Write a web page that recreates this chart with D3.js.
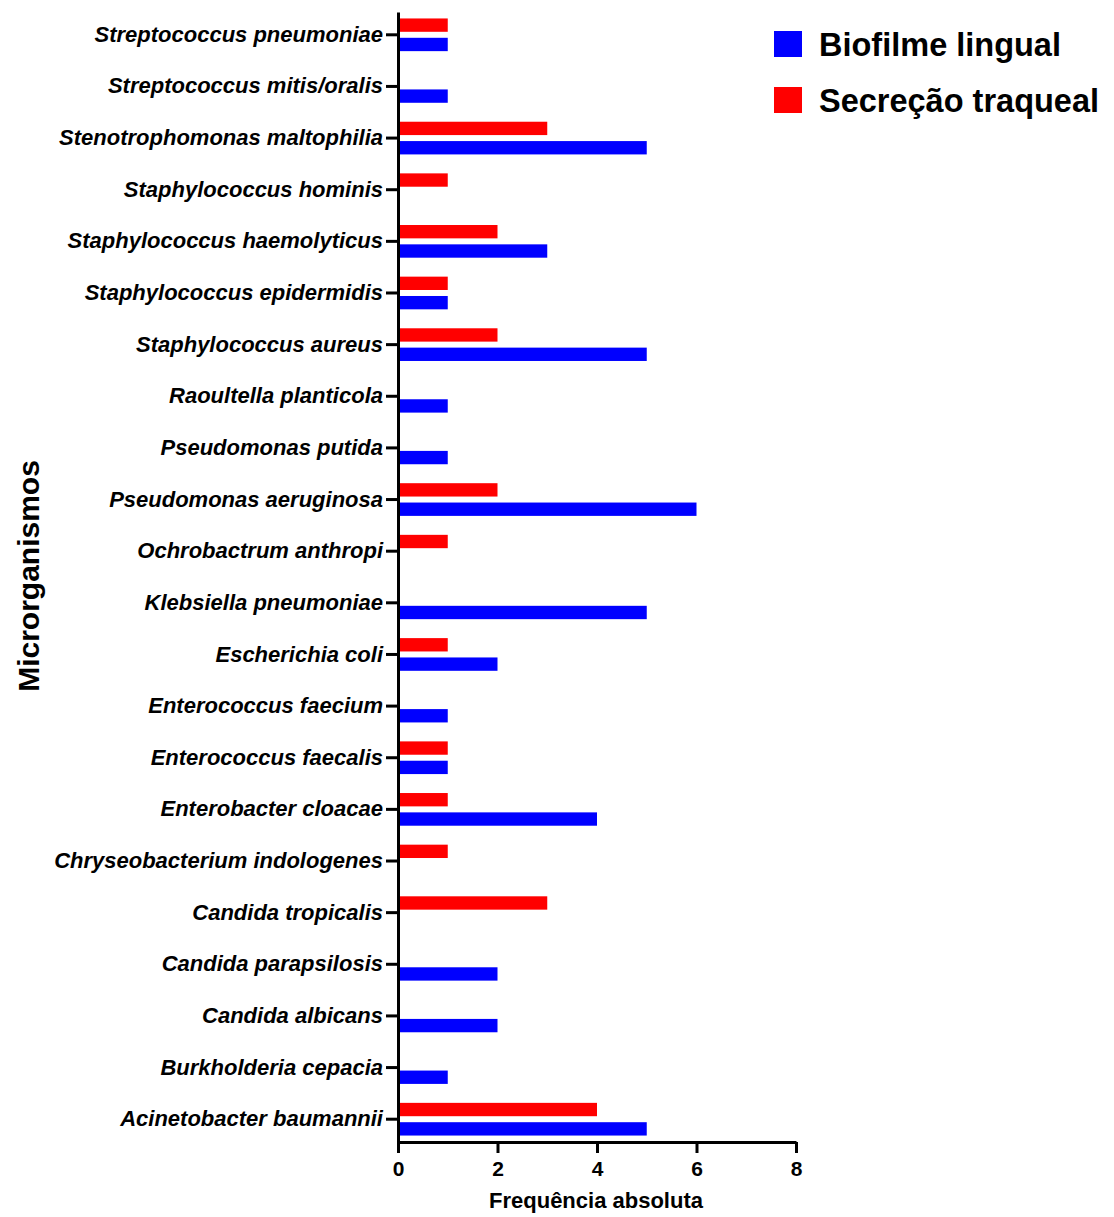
<!DOCTYPE html>
<html>
<head>
<meta charset="utf-8">
<script src="https://cdn.jsdelivr.net/npm/d3@7"></script>
<style>
  body { margin: 0; background: #fff; }
  svg text { font-family: "Liberation Sans", Arial, sans-serif; font-weight: bold; fill: #000; }
</style>
</head>
<body>
<div id="chart"></div>
<script>
// data ------------------------------------------------------------------------
var categories = [
  "Streptococcus pneumoniae", "Streptococcus mitis/oralis", "Stenotrophomonas maltophilia",
  "Staphylococcus hominis", "Staphylococcus haemolyticus", "Staphylococcus epidermidis",
  "Staphylococcus aureus", "Raoultella planticola", "Pseudomonas putida",
  "Pseudomonas aeruginosa", "Ochrobactrum anthropi", "Klebsiella pneumoniae",
  "Escherichia coli", "Enterococcus faecium", "Enterococcus faecalis",
  "Enterobacter cloacae", "Chryseobacterium indologenes", "Candida tropicalis",
  "Candida parapsilosis", "Candida albicans", "Burkholderia cepacia", "Acinetobacter baumannii"
];
var secrecao = [1, 0, 3, 1, 2, 1, 2, 0, 0, 2, 1, 0, 1, 0, 1, 1, 1, 3, 0, 0, 0, 4];
var biofilme = [1, 1, 5, 0, 3, 1, 5, 1, 1, 6, 0, 5, 2, 1, 1, 4, 0, 0, 2, 2, 1, 5];
var seriesNames = ["Biofilme lingual", "Secreção traqueal"];
var xTicks = [0, 2, 4, 6, 8];

// chart -----------------------------------------------------------------------
var width = 1114, height = 1217;
var svg = d3.select("#chart").append("svg")
  .attr("width", width)
  .attr("height", height);

var x = d3.scaleLinear().domain([0, 8]).range([398, 796]);
var y = d3.scaleBand().domain(categories).range([12, 1142])
  .paddingInner(0.367).paddingOuter(0.125);
// red on top, blue under it
var sub = d3.scaleBand().domain(["sec", "bio"]).range([0, y.bandwidth()]).paddingInner(0.31);

var rows = categories.map(function(c, i) {
  return {cat: c, sec: secrecao[i], bio: biofilme[i]};
});

var g = svg.selectAll("g.row")
  .data(rows)
  .enter()
  .append("g")
  .attr("class", "row")
  .attr("transform", function(d) { return "translate(0," + y(d.cat) + ")"; });

g.append("rect")
  .attr("x", x(0))
  .attr("y", sub("sec"))
  .attr("width", function(d) { return x(d.sec) - x(0); })
  .attr("height", sub.bandwidth())
  .attr("fill", "#ff0000");

g.append("rect")
  .attr("x", x(0))
  .attr("y", sub("bio"))
  .attr("width", function(d) { return x(d.bio) - x(0); })
  .attr("height", sub.bandwidth())
  .attr("fill", "#0000ff");

// axes
var yAxis = svg.append("g")
  .attr("transform", "translate(" + x(0) + ",0)")
  .call(d3.axisLeft(y).tickSize(12).tickPadding(3).tickSizeOuter(0));
yAxis.selectAll("text")
  .style("font-size", "22px")
  .style("font-style", "italic");

var xAxis = svg.append("g")
  .attr("transform", "translate(0," + 1142 + ")")
  .call(d3.axisBottom(x).tickValues(xTicks).tickSize(11).tickPadding(8).tickSizeOuter(0));
xAxis.selectAll("text").style("font-size", "21px");

svg.selectAll(".domain, .tick line")
  .attr("stroke", "#000")
  .attr("stroke-width", 3);

// axis titles
svg.append("text")
  .attr("x", 596)
  .attr("y", 1208)
  .attr("text-anchor", "middle")
  .style("font-size", "22px")
  .text("Frequência absoluta");

svg.append("text")
  .attr("transform", "translate(39,576) rotate(-90)")
  .attr("text-anchor", "middle")
  .style("font-size", "30px")
  .text("Microrganismos");

// legend
var legendColors = ["#0000ff", "#ff0000"];
var legend = svg.selectAll("g.legend")
  .data(seriesNames)
  .enter()
  .append("g")
  .attr("class", "legend")
  .attr("transform", function(d, i) { return "translate(774," + (31 + i * 56) + ")"; });

legend.append("rect")
  .attr("width", 28)
  .attr("height", 26)
  .attr("fill", function(d, i) { return legendColors[i]; });

legend.append("text")
  .attr("x", 45)
  .attr("y", 25)
  .style("font-size", "32.5px")
  .text(function(d) { return d; });
</script>
</body>
</html>
